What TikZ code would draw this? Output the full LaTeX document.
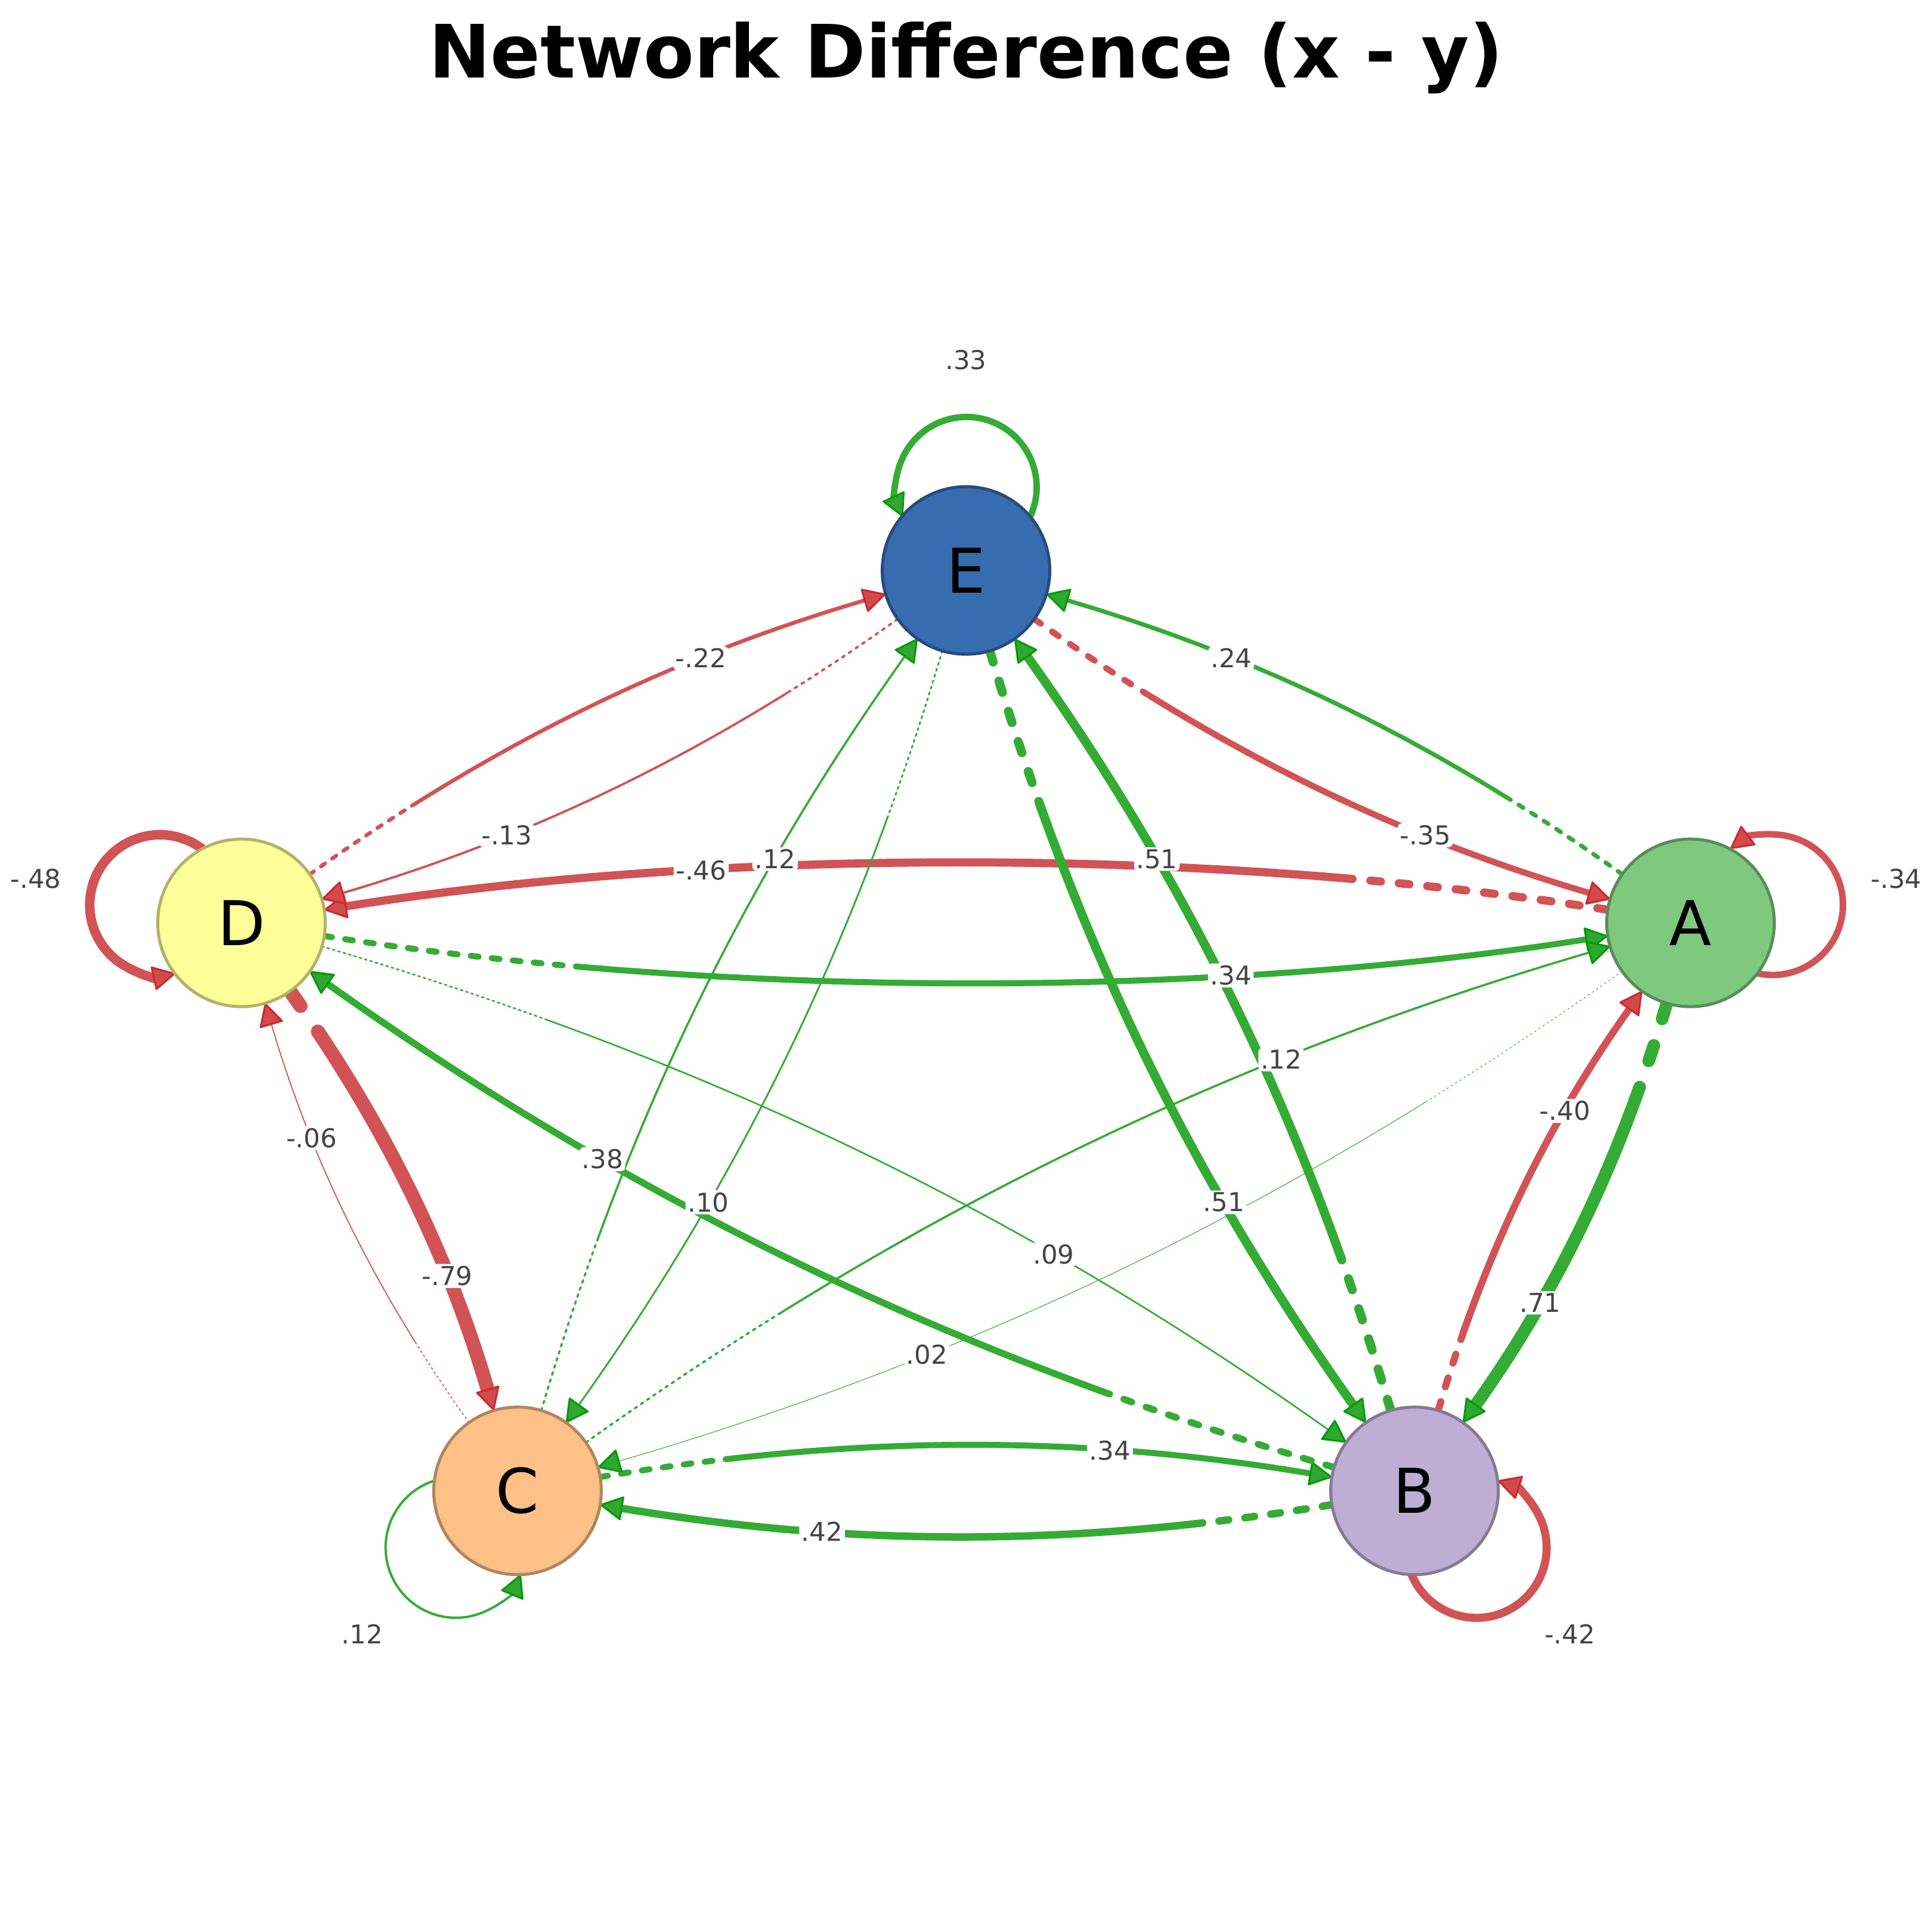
\documentclass[tikz,border=0pt]{standalone}
\usepackage{fontspec}
\setmainfont{DejaVu Sans}
\usetikzlibrary{arrows.meta}
\definecolor{gline}{RGB}{52,172,52}
\definecolor{rline}{RGB}{210,83,85}
\definecolor{gtipf}{RGB}{46,168,46}
\definecolor{gtipd}{RGB}{12,152,12}
\definecolor{rtipf}{RGB}{212,74,76}
\definecolor{rtipd}{RGB}{200,44,46}
\definecolor{lbltext}{RGB}{68,68,68}
\definecolor{nA}{HTML}{7FC97F}
\definecolor{nB}{HTML}{BEAED4}
\definecolor{nC}{HTML}{FDC086}
\definecolor{nD}{HTML}{FFFF99}
\definecolor{nE}{HTML}{386CB0}
\pgfdeclarelayer{bg}
\pgfdeclarelayer{edges}
\pgfdeclarelayer{labels}
\pgfsetlayers{bg,edges,main,labels}
\tikzset{
  vert/.style={circle, minimum size=2.72cm, inner sep=0pt, outer sep=0pt,
    line width=1.4pt, draw=#1!70!black, fill=#1, text=black,
    font=\fontsize{28.5}{34}\selectfont},
  wt/.code={%
    \pgfmathsetmacro\ew{max(8.2*#1,0.3)}%
    \pgfmathsetmacro\eon{max(1.3*\ew,0.8)}%
    \pgfmathsetmacro\eoff{max(2.2*\ew,1.5)}%
    \tikzset{line width=\ew pt}%
  },
  dlen/.code={%
    \pgfmathtruncatemacro\nd{#1/(\eon+\eoff)}%
    \gdef\dspec{}%
    \foreach \k in {1,...,\nd}{\xdef\dspec{\dspec on \eon pt off \eoff pt }}%
    \tikzset{dash pattern/.expanded={\dspec on 3000pt off 1pt}}%
  },
  ge/.style={draw=gline, line cap=round,
    -{Triangle[length=11pt,width=11.5pt,line width=0.9pt,round,fill=gtipf,color=gtipd]}},
  re/.style={draw=rline, line cap=round,
    -{Triangle[length=11pt,width=11.5pt,line width=0.9pt,round,fill=rtipf,color=rtipd]}},
  lbl/.style={fill=white, rounded corners=2pt, inner sep=1pt, text=lbltext,
    font=\fontsize{12}{14}\selectfont},
  lpl/.style={text=lbltext, font=\fontsize{12}{14}\selectfont},
  bl/.style={bend left=9.5, looseness=0.9},
  br/.style={bend right=9.5, looseness=0.9},
}
\begin{document}
\begin{tikzpicture}[x=0.02cm,y=0.02cm]
\begin{pgfonlayer}{bg}
\fill[white] (0,0) rectangle (1568,1568);
\end{pgfonlayer}
\useasboundingbox (0,0) rectangle (1568,1568);
\node[font=\fontsize{34}{40}\selectfont\bfseries, anchor=base] (title) at (784,1505) {Network Difference (x - y)};
\node[vert=nE] (E) at (784,1105) {E};
\node[vert=nA] (A) at (1372,819) {A};
\node[vert=nB] (B) at (1148,358) {B};
\node[vert=nC] (C) at (420,358) {C};
\node[vert=nD] (D) at (196,819) {D};
\begin{pgfonlayer}{edges}
% self loops
\draw[ge, line width=2.95pt] (E.40) arc[start angle=-24.8, end angle=204.8, radius=1.14cm];
\draw[re, line width=3.0pt] (A.-37) arc[start angle=-102.6, end angle=127, radius=1.14cm];
\draw[re, line width=4.4pt] (D.118) arc[start angle=53, end angle=282.6, radius=1.14cm];
\draw[re, line width=3.75pt] (B.-92) arc[start angle=-157.4, end angle=72.2, radius=1.14cm];
\draw[ge, line width=1.1pt] (C.173) arc[start angle=107.8, end angle=337.4, radius=1.14cm];
% edges
\draw[re, wt=0.46, dlen=124] (A) to[bend right=9, looseness=0.8] coordinate[pos=0.7] (lAD) (D);
\draw[ge, wt=0.34, dlen=124] (D) to[bend right=9, looseness=0.8] coordinate[pos=0.7] (lDA) (A);
\draw[ge, wt=0.34, dlen=68] (C) to[bl] coordinate[pos=0.7] (lCB) (B);
\draw[ge, wt=0.42, dlen=68] (B) to[bl] coordinate[pos=0.7] (lBC) (C);
\draw[re, wt=0.35, dlen=62] (E) to[br] coordinate[pos=0.7] (lEA) (A);
\draw[ge, wt=0.24, dlen=62] (A) to[br] coordinate[pos=0.7] (lAE) (E);
\draw[re, wt=0.22, dlen=62] (D) to[bl] coordinate[pos=0.7] (lDE) (E);
\draw[re, wt=0.13, dlen=62] (E) to[bl] coordinate[pos=0.7] (lED) (D);
\draw[ge, wt=0.51, dlen=83] (E) to[br] coordinate[pos=0.7] (lEB) (B);
\draw[ge, wt=0.51, dlen=83] (B) to[br] coordinate[pos=0.7] (lBE) (E);
\draw[ge, wt=0.12, dlen=83] (C) to[bl] coordinate[pos=0.7] (lCE) (E);
\draw[ge, wt=0.10, dlen=83] (E) to[bl] coordinate[pos=0.7] (lEC) (C);
\draw[ge, wt=0.09, dlen=110] (D) to[bl] coordinate[pos=0.7] (lDB) (B);
\draw[ge, wt=0.38, dlen=110] (B) to[bl] coordinate[pos=0.7] (lBD) (D);
\draw[ge, wt=0.12, dlen=110] (C) to[bl] coordinate[pos=0.7] (lCA) (A);
\draw[ge, wt=0.02, dlen=110] (A) to[bl] coordinate[pos=0.7] (lAC) (C);
\draw[re, wt=0.79, dlen=45] (D) to[bl] coordinate[pos=0.7] (lDC) (C);
\draw[re, wt=0.06, dlen=45] (C) to[bl] coordinate[pos=0.7] (lCD) (D);
\draw[ge, wt=0.71, dlen=45] (A) to[bl] coordinate[pos=0.7] (lAB) (B);
\draw[re, wt=0.40, dlen=45] (B) to[bl] coordinate[pos=0.7] (lBA) (A);
\end{pgfonlayer}
\begin{pgfonlayer}{labels}
\node[lbl] (tAD) at (lAD) {-.46};
\node[lbl] (tDA) at (lDA) {.34};
\node[lbl] (tCB) at (lCB) {.34};
\node[lbl] (tBC) at (lBC) {.42};
\node[lbl] (tEA) at (lEA) {-.35};
\node[lbl] (tAE) at (lAE) {.24};
\node[lbl] (tDE) at (lDE) {-.22};
\node[lbl] (tED) at (lED) {-.13};
\node[lbl] (tEB) at (lEB) {.51};
\node[lbl] (tBE) at (lBE) {.51};
\node[lbl] (tCE) at (lCE) {.12};
\node[lbl] (tEC) at (lEC) {.10};
\node[lbl] (tDB) at (lDB) {.09};
\node[lbl] (tBD) at (lBD) {.38};
\node[lbl] (tCA) at (lCA) {.12};
\node[lbl] (tAC) at (lAC) {.02};
\node[lbl] (tDC) at (lDC) {-.79};
\node[lbl] (tCD) at (lCD) {-.06};
\node[lbl] (tAB) at (lAB) {.71};
\node[lbl] (tBA) at (lBA) {-.40};
\node[lpl] (tEE) at (784,1276) {.33};
\node[lpl] (tAA) at (1539,855) {-.34};
\node[lpl] (tDD) at (29,855) {-.48};
\node[lpl] (tBB) at (1274,242) {-.42};
\node[lpl] (tCC) at (294,242) {.12};
\end{pgfonlayer}
\end{tikzpicture}
\end{document}
